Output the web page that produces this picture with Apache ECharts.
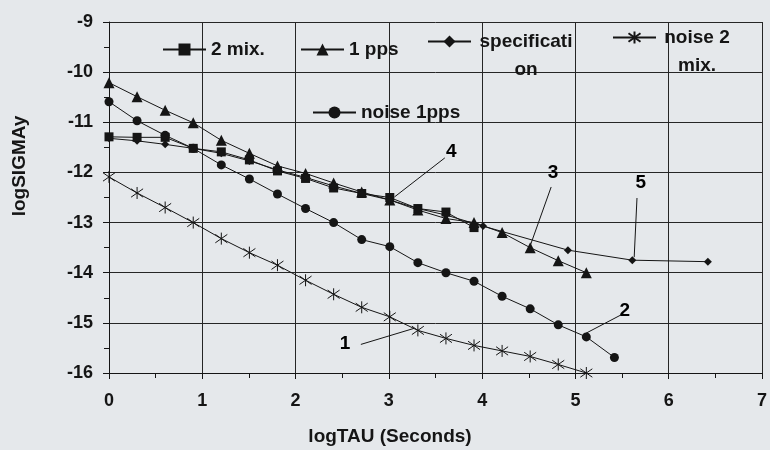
<!DOCTYPE html>
<html>
<head>
<meta charset="utf-8">
<script src="https://cdn.jsdelivr.net/npm/echarts@6/dist/echarts.min.js"></script>
<style>
html,body{margin:0;padding:0;background:#e5e8eb;}
#chart{width:770px;height:450px;}
</style>
</head>
<body>
<div id="chart"></div>
<script>
// logTAU positions (tau = 1,2,4,8,... s)
const logTau = [0,0.301,0.602,0.903,1.204,1.505,1.806,2.107,2.408,2.709,3.01,3.311,3.612,3.913,4.214,4.515,4.816,5.117,5.418];
const mix2 = [-11.29,-11.30,-11.30,-11.52,-11.59,-11.75,-11.97,-12.12,-12.31,-12.42,-12.50,-12.72,-12.79,-13.10];
const pps1 = [-10.21,-10.49,-10.76,-11.01,-11.36,-11.62,-11.87,-12.02,-12.21,-12.39,-12.55,-12.75,-12.92,-13.00,-13.20,-13.50,-13.76,-14.00];
const noise1pps = [-10.59,-10.97,-11.26,-11.52,-11.85,-12.13,-12.43,-12.72,-13.00,-13.34,-13.48,-13.80,-14.00,-14.17,-14.47,-14.72,-15.04,-15.28,-15.69];
const noise2mix = [-12.09,-12.41,-12.70,-13.00,-13.32,-13.60,-13.85,-14.15,-14.43,-14.69,-14.88,-15.15,-15.31,-15.45,-15.56,-15.67,-15.83,-16.00];
const specX = [0,0.301,0.602,0.903,1.204,1.505,1.806,2.107,2.408,2.709,3.01,3.311,3.612,4.01,4.92,5.61,6.42];
const specY = [-11.32,-11.37,-11.44,-11.52,-11.62,-11.77,-11.95,-12.10,-12.27,-12.42,-12.55,-12.72,-12.85,-13.07,-13.55,-13.75,-13.78];
const xTicks = [0,1,2,3,4,5,6,7];
const yTicks = [-16,-15,-14,-13,-12,-11,-10,-9];
// curve annotations: number label and leader line (data coords)
const annLabels = [[3.67,-11.59,'4'],[4.76,-12.01,'3'],[5.70,-12.21,'5'],[5.53,-14.75,'2'],[2.53,-15.41,'1']];
const annLines = [
  [[3.06,-12.49],[3.60,-11.71]],
  [[4.74,-12.29],[4.51,-13.49]],
  [[5.66,-12.51],[5.63,-13.69]],
  [[5.48,-14.85],[5.11,-15.21]],
  [[2.70,-15.43],[3.27,-15.11]]
];

const INK = '#151515';
const FONT = '"Liberation Sans", Arial, sans-serif';
const pair = (xs, ys) => ys.map((v,i)=>[xs[i], v]);
const asterisk = 'path://M0,-10L0,10M-9,-7L9,7M-9,7L9,-7';

function lineSeries(name, data, symbol, size, extra) {
  return Object.assign({
    name: name, type: 'line', data: data, symbol: symbol, symbolSize: size,
    showAllSymbol: true, clip: false,
    lineStyle: {color: INK, width: 1},
    itemStyle: {color: INK, borderColor: INK, borderWidth: 0},
    emphasis: {disabled: true},
    animation: false, z: 3
  }, extra || {});
}

const legendBase = {
  itemWidth: 43, itemHeight: 15, padding: 0, itemGap: 6,
  textStyle: {fontFamily: FONT, fontWeight: 'bold', fontSize: 19, color: INK},
  selectedMode: false
};

const axisTitles = [
  {type: 'text', x: 20, y: 166, rotation: Math.PI / 2,
    style: {text: 'logSIGMAy', font: 'bold 19px ' + FONT, fill: INK, align: 'center', verticalAlign: 'middle'}},
  {type: 'text', x: 390, y: 437,
    style: {text: 'logTAU (Seconds)', font: 'bold 19px ' + FONT, fill: INK, align: 'center', verticalAlign: 'middle'}}
];

const option = {
  backgroundColor: '#e5e8eb',
  animation: false,
  grid: {left: 109, top: 22, right: 3, bottom: 77, containLabel: false},
  legend: [
    Object.assign({}, legendBase, {data: ['2 mix.'], left: 162, top: 40}),
    Object.assign({}, legendBase, {data: ['1 pps'], left: 300, top: 40}),
    Object.assign({}, legendBase, {data: ['specification'], left: 427, top: 32,
      formatter: () => '{a|specificati}\n{a|on}',
      textStyle: Object.assign({}, legendBase.textStyle, {padding: [28,0,0,0],
        rich: {a: {fontFamily: FONT, fontWeight: 'bold', fontSize: 19, color: INK, width: 100, align: 'center', lineHeight: 28}}})}),
    Object.assign({}, legendBase, {data: ['noise 2 mix.'], left: 612, top: 28,
      formatter: () => '{a|noise 2}\n{a|mix.}',
      textStyle: Object.assign({}, legendBase.textStyle, {padding: [28,0,0,0],
        rich: {a: {fontFamily: FONT, fontWeight: 'bold', fontSize: 19, color: INK, width: 72, align: 'center', lineHeight: 28}}})}),
    Object.assign({}, legendBase, {data: ['noise 1pps'], left: 312, top: 103})
  ],
  xAxis: {
    type: 'value', min: 0, max: 7, interval: 1,
    axisLine: {show: true, onZero: false, lineStyle: {color: INK, width: 1}},
    axisTick: {show: true, length: 6, lineStyle: {color: INK}},
    minorTick: {show: true, splitNumber: 2, length: 5, lineStyle: {color: INK}},
    splitLine: {show: true, lineStyle: {color: '#262626', width: 1}},
    axisLabel: {margin: 19, fontFamily: FONT, fontWeight: 'bold', fontSize: 18, color: INK,
      formatter: v => xTicks.indexOf(v) >= 0 ? String(v) : ''}
  },
  yAxis: {
    type: 'value', min: -16, max: -9, interval: 1,
    axisLine: {show: true, onZero: false, lineStyle: {color: INK, width: 1}},
    axisTick: {show: true, length: 6, lineStyle: {color: INK}},
    minorTick: {show: true, splitNumber: 2, length: 5, lineStyle: {color: INK}},
    splitLine: {show: true, lineStyle: {color: '#262626', width: 1}},
    axisLabel: {margin: 16, fontFamily: FONT, fontWeight: 'bold', fontSize: 18, color: INK,
      formatter: v => yTicks.indexOf(v) >= 0 ? String(v) : ''}
  },
  graphic: axisTitles,
  series: [
    lineSeries('2 mix.', pair(logTau, mix2), 'rect', 9),
    lineSeries('1 pps', pair(logTau, pps1), 'triangle', 11),
    lineSeries('specification', pair(specX, specY), 'diamond', 8),
    lineSeries('noise 2 mix.', pair(logTau, noise2mix), asterisk, 12, {
      itemStyle: {color: 'none', borderColor: INK, borderWidth: 1}
    }),
    lineSeries('noise 1pps', pair(logTau, noise1pps), 'circle', 9),
    {
      name: 'annotations', type: 'line', data: [], animation: false, z: 4, clip: false,
      markLine: {
        silent: true, symbol: ['none', 'none'], animation: false,
        label: {show: false},
        lineStyle: {color: INK, width: 1, type: 'solid', opacity: 1},
        data: annLines.map(l => [{coord: l[0]}, {coord: l[1]}])
      }
    }
  ]
};

const chart = echarts.init(document.getElementById('chart'), null, {renderer: 'canvas'});
chart.setOption(option);
// place curve numbers through the chart's own scales
const numberTexts = annLabels.map(a => {
  const p = chart.convertToPixel({gridIndex: 0}, [a[0], a[1]]);
  return {type: 'text', x: p[0], y: p[1], z: 10,
    style: {text: a[2], font: 'bold 19px ' + FONT, fill: '#000', align: 'center', verticalAlign: 'middle'}};
});
chart.setOption({graphic: axisTitles.concat(numberTexts)});
</script>
</body>
</html>
